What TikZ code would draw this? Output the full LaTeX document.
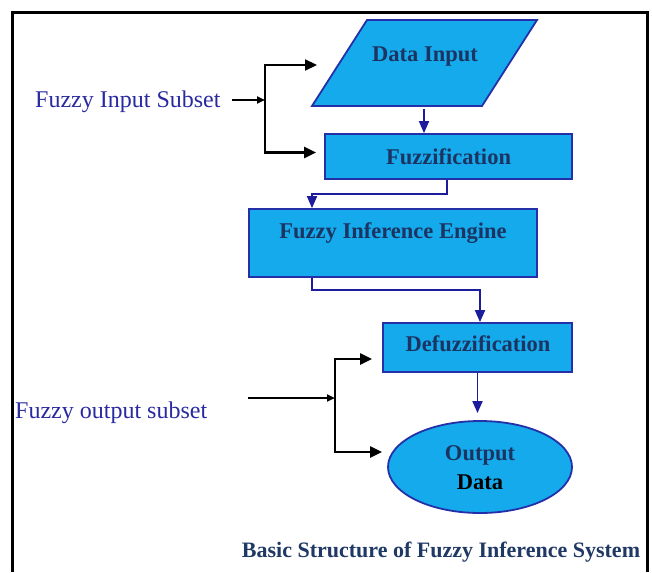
\documentclass[tikz,border=0pt]{standalone}
\usepackage{fontspec}
\setmainfont{Liberation Serif}
\usetikzlibrary{arrows.meta,shapes.geometric}
\definecolor{boxfill}{HTML}{14AAEC}
\definecolor{boxline}{HTML}{2330A8}
\definecolor{boxtext}{HTML}{1C3462}
\definecolor{flowline}{HTML}{1C1C9C}
\definecolor{labeltext}{HTML}{2A2AA0}
\definecolor{captiontext}{HTML}{1F3864}

\begin{document}
\begin{tikzpicture}[x=1pt,y=-1pt,
  procbox/.style={draw=boxline, fill=boxfill, line width=1.8pt, inner sep=0pt},
  boxlabel/.style={text=boxtext, font=\fontsize{22.5}{26}\selectfont\bfseries, inner sep=0pt},
  flow/.style={draw=flowline, line width=1.8pt, -{Triangle[length=12pt,width=10pt]}},
  feed/.style={draw=black, line width=2.2pt, -{Triangle[length=12pt,width=11pt]}},
  feedin/.style={draw=black, line width=2.8pt, -{Triangle[length=8pt,width=7pt]}},
  sidelabel/.style={text=labeltext, font=\fontsize{24}{28}\selectfont, anchor=west, inner sep=0pt}]

\useasboundingbox (0,0) rectangle (652,572);

% outer frame, open at the lower edge
\draw[line width=2.6pt] (12.5,572) -- (12.5,12.5) -- (647.5,12.5) -- (647.5,572);

% data input: a parallelogram
\coordinate (dinbl) at (312,106);
\coordinate (dinbr) at (482,106);
\coordinate (dintr) at (537,20);
\coordinate (dintl) at (367,20);
\coordinate (dinbot) at (424,109);
\path[procbox, line join=miter] (dinbl) -- (dinbr) -- (dintr) -- (dintl) -- cycle;
\node[boxlabel] (din) at (425,57) {Data Input};

% remaining stages
\node[procbox, minimum width=247pt, minimum height=45pt] (fuzz) at (448.5,156.5) {};
\node[boxlabel] (fuzztext) at (448.5,157) {Fuzzification};

\node[procbox, minimum width=288pt, minimum height=68pt] (fie) at (393,243) {};
\node[boxlabel] (fietext) at (393,233) {Fuzzy Inference Engine};

\node[procbox, minimum width=189pt, minimum height=49pt] (defuzz) at (477.5,347.5) {};
\node[boxlabel] (defuzztext) at (478,344) {Defuzzification};

\node[procbox, ellipse, minimum width=184pt, minimum height=92pt] (out) at (480,467) {};
\node[boxlabel] (outtext) at (480,455) {Output};
\node[boxlabel, text=black] (datatext) at (480,482) {Data};

% flow between the stages
\draw[flow] (dinbot) -- (dinbot |- fuzz.north);
\draw[flow] ([xshift=-1.5pt]fuzz.south) -- ++(0,14) -| ([xshift=-81pt]fie.north);
\draw[flow] ([xshift=-81pt]fie.south) -- ++(0,12) -| ([xshift=2.5pt]defuzz.north);
\draw[flow, shorten >=7pt] (defuzz.south) -- (defuzz.south |- out.north);

% fuzzy input subset feeding the first two stages
\node[sidelabel] (insub) at (35,102) {Fuzzy Input Subset};
\coordinate (instart) at (232,100);
\coordinate (ibr) at (265,100);
\coordinate (dinfeed) at (317,65);
\draw[feedin] (instart) -- (ibr);
\draw[feed] (ibr) |- (dinfeed);
\draw[feed] (ibr) |- ([shift={(-8pt,4pt)}]fuzz.west);

% fuzzy output subset feeding the last two stages
\node[sidelabel] (outsub) at (15,413) {Fuzzy output subset};
\coordinate (ostart) at (248,398);
\coordinate (obr) at (335,398);
\draw[feedin] (ostart) -- (obr);
\draw[feed] (obr) |- ([shift={(-10pt,-11.5pt)}]defuzz.west);
\draw[feed] (obr) |- ([shift={(-5pt,15pt)}]out.west);

% caption
\node[text=captiontext, font=\fontsize{22}{26}\selectfont\bfseries] (caption) at (441,552)
  {Basic Structure of Fuzzy Inference System};
\end{tikzpicture}
\end{document}
